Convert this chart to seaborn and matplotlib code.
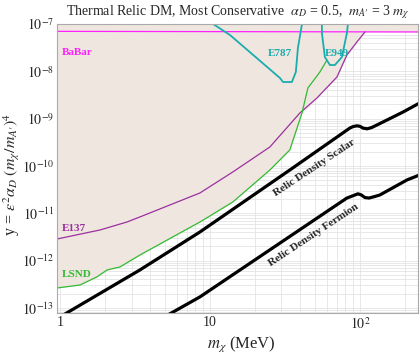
import numpy as np
import pandas as pd
import seaborn as sns
from matplotlib import pyplot as plt
from matplotlib import ticker

# constraint curves (m_chi in MeV, y)
babar_m = [0.95, 250]
babar_y = [7.0e-8, 6.8e-8]

e137_m = [0.955, 1.85, 2.80, 3.41, 8.58, 14.2, 25.1, 39.8, 51.7, 70.3, 81.9, 95.5, 108]
e137_y = [2.86e-12, 4.44e-12, 6.55e-12, 8.36e-12, 2.69e-11, 7.46e-11, 2.52e-10,
          1.32e-9, 2.73e-9, 7.59e-9, 2.21e-8, 4.17e-8, 6.78e-8]

lsnd_m = [0.955, 1.36, 1.76, 2.06, 2.51, 3.41, 8.58, 14.2, 25.1, 34.1, 41.1, 45.0, 54.1, 60.3]
lsnd_y = [2.64e-13, 3.05e-13, 4.51e-13, 6.34e-13, 7.33e-13, 1.31e-12, 6.55e-12, 1.73e-11,
          8.22e-11, 2.18e-10, 1.32e-9, 4.45e-9, 9.68e-9, 1.73e-8]

e787_m = [10.5, 13.6, 29.3, 30.7, 35.2, 37.4, 38.6, 41.1]
e787_y = [1.0e-7, 5.86e-8, 7.23e-9, 5.95e-9, 5.95e-9, 9.68e-9, 3.11e-8, 1.0e-7]

e949_m = [55.8, 55.8, 58.4, 63.1, 68.1, 75.9, 81.9, 83.2]
e949_y = [1.0e-7, 6.45e-8, 2.01e-8, 1.36e-8, 1.36e-8, 2.01e-8, 6.45e-8, 1.0e-7]

# lower edge of the excluded (shaded) region
excl_m = [0.955, 1.36, 1.76, 2.06, 2.51, 3.41, 8.58, 14.2, 25.1, 34.1, 41.1,
          51.7, 70.3, 81.9, 95.5, 108, 250]
excl_y = [2.64e-13, 3.05e-13, 4.51e-13, 6.34e-13, 7.33e-13, 1.31e-12, 6.55e-12, 1.73e-11,
          8.22e-11, 2.18e-10, 1.32e-9, 2.73e-9, 7.59e-9, 2.21e-8, 4.17e-8, 6.78e-8, 6.8e-8]

# thermal relic targets
scalar_m = [1.0, 3.41, 8.58, 34.1, 85.8, 90, 95.5, 100, 105, 112, 120, 130, 194, 250]
scalar_y = [6.45e-14, 6.34e-13, 4.03e-12, 8.22e-11, 6.34e-10, 6.8e-10, 7.05e-10, 6.9e-10,
            6.3e-10, 6.1e-10, 6.5e-10, 7.35e-10, 1.38e-9, 2.14e-9]

fermion_m = [5.2, 8.58, 81.9, 90, 97, 102, 108, 115, 125, 136, 206, 250]
fermion_y = [7.0e-14, 1.71e-13, 2.1e-11, 2.35e-11, 2.58e-11, 2.45e-11, 2.15e-11, 2.1e-11,
             2.25e-11, 2.44e-11, 5.06e-11, 6.45e-11]

sns.set_style("white")
plt.rcParams['font.family'] = ['Liberation Serif', 'DejaVu Serif']
plt.rcParams['mathtext.fontset'] = 'stix'

fig = plt.figure(figsize=(4.2, 3.57), dpi=100)
ax = fig.add_axes([0.1357, 0.1232, 0.8595, 0.8095])
ax.set_xscale('log')
ax.set_yscale('log')
ax.set_xlim(0.955, 244)
ax.set_ylim(7.8e-14, 1e-7)

ax.set_axisbelow(True)
ax.grid(True, which='both', color='#e4e4e4', lw=0.6)

ax.fill_between(excl_m, excl_y, 1e-7, color='#efe6e0', lw=0, zorder=1)

curves = [
    (babar_m, babar_y, '#ff22ff', 0.9),
    (e137_m, e137_y, '#9b30a0', 0.9),
    (lsnd_m, lsnd_y, '#33bb33', 0.9),
    (e787_m, e787_y, '#1aadad', 1.3),
    (e949_m, e949_y, '#1aadad', 1.3),
    (scalar_m, scalar_y, 'black', 2.3),
    (fermion_m, fermion_y, 'black', 2.3),
]
for m, y, col, lw in curves:
    d = pd.DataFrame({'m': m, 'y': y})
    sns.lineplot(data=d, x='m', y='y', ax=ax, color=col, lw=lw,
                 sort=False, estimator=None, zorder=3)

lab = dict(fontsize=8, fontweight='bold', va='center', ha='left', zorder=4)
ax.text(1.03, 2.5e-8, 'BaBar', color='#ff22ff', **lab)
ax.text(1.03, 4.66e-12, 'E137', color='#9b30a0', **lab)
ax.text(1.03, 5.2e-13, 'LSND', color='#33bb33', **lab)
ax.text(24.4, 2.44e-8, 'E787', color='#1aadad', **lab)
ax.text(58.4, 2.44e-8, 'E949', color='#1aadad', **lab)
ax.text(49.4, 9.06e-11, 'Relic Density Scalar', rotation=33.5, rotation_mode='anchor',
        ha='center', va='center', fontsize=8, fontweight='bold', zorder=4)
ax.text(49.4, 3.48e-12, 'Relic Density Fermion', rotation=33.5, rotation_mode='anchor',
        ha='center', va='center', fontsize=8, fontweight='bold', zorder=4)

ax.xaxis.set_major_locator(ticker.FixedLocator([1, 10, 100]))
ax.xaxis.set_major_formatter(ticker.FixedFormatter(['1', '10', r'$10^2$']))
ax.xaxis.set_minor_locator(ticker.LogLocator(base=10, subs=np.arange(2, 10)))
ax.xaxis.set_minor_formatter(ticker.NullFormatter())
yt = [1e-13, 1e-12, 1e-11, 1e-10, 1e-9, 1e-8, 1e-7]
ax.yaxis.set_major_locator(ticker.FixedLocator(yt))
ax.yaxis.set_major_formatter(ticker.FixedFormatter([r'$10^{-%d}$' % k for k in range(13, 6, -1)]))
ax.yaxis.set_minor_locator(ticker.LogLocator(base=10, subs=np.arange(2, 10)))
ax.yaxis.set_minor_formatter(ticker.NullFormatter())
ax.tick_params(which='both', direction='in', color='#999999', labelsize=10, pad=2)
ax.tick_params(which='major', length=4)
ax.tick_params(which='minor', length=2)
for s in ax.spines.values():
    s.set_color('#aaaaaa')
    s.set_zorder(5)

ax.set_xlabel(r'$m_\chi$ (MeV)', fontsize=12)
ax.set_ylabel(r"y = $\epsilon^2 \alpha_D\ (m_\chi/m_{A\prime})^4$", fontsize=11.5)
ax.xaxis.set_label_coords(0.51, -0.075)
ax.yaxis.set_label_coords(-0.098, 0.48)
ax.set_title(r"Thermal Relic DM, Most Conservative  $\alpha_D$ = 0.5,  $m_{A\prime}$ = 3 $m_\chi$",
             fontsize=10, pad=6)

fig.savefig('out.png', dpi=100)
